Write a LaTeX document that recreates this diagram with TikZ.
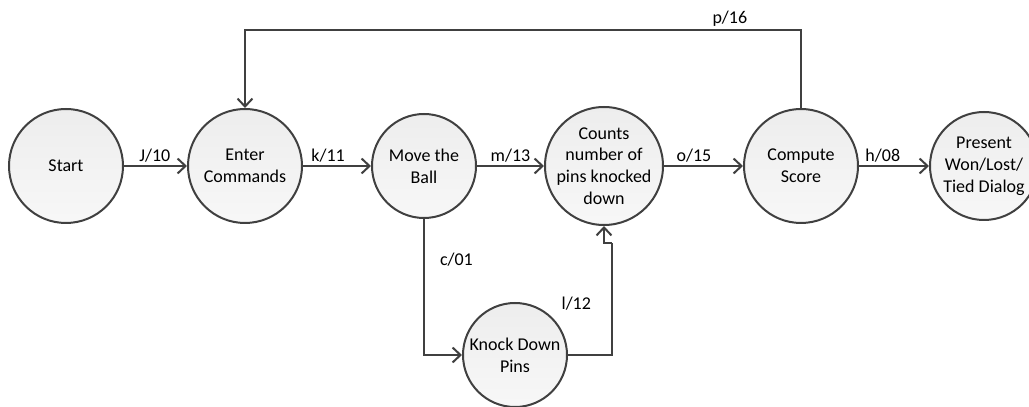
\documentclass[tikz,border=0pt]{standalone}
\usepackage{fontspec}
\setmainfont{Carlito}
\usetikzlibrary{arrows.meta, positioning, calc}
\definecolor{lineGray}{HTML}{404040}
\tikzset{
  st node/.style={
    circle, draw=lineGray, line width=1pt,
    top color=black!7, bottom color=black!3,
    minimum size=57pt, inner sep=0pt
  },
  st text/.style={
    align=center, font=\fontsize{9}{10.9}\selectfont, inner sep=0pt
  },
  st arrow/.style={
    -{Straight Barb[length=4pt,width=7.5pt]}, line width=1pt, draw=lineGray
  },
  st line/.style={
    line width=1pt, draw=lineGray
  },
  st label/.style={
    font=\fontsize{9}{10.9}\selectfont, inner sep=1.5pt
  }
}
\begin{document}
\begin{tikzpicture}
  \useasboundingbox (0,0) rectangle (514.5pt,203.5pt);
  \node (start) [st node, label={[st text]center:Start}] at (33pt,120.5pt) {};
  \node (enter) [st node, right=31.5pt of start,
    label={[st text]center:Enter\\Commands}] {};
  \node (move) [st node, minimum size=52pt, right=34pt of enter,
    label={[st text]center:Move the\\Ball}] {};
  \node (counts) [st node, minimum size=59pt, right=33.5pt of move,
    label={[st text]center:Counts\\number of\\pins knocked\\down}] {};
  \node (compute) [st node, right=39.5pt of counts,
    label={[st text]center:Compute\\Score}] {};
  \node (present) [st node, minimum size=54pt, right=35pt of compute,
    label={[st text]center:Present\\Won/Lost/\\Tied Dialog}] {};
  \node (kdp) [st node, minimum size=52pt, label={[st text]center:Knock Down\\Pins}]
    at (257.5pt,26pt) {};
  \coordinate (turn) at (306pt,82pt);

  \draw [st arrow] (start) -- node[st label, above, pos=0.49] {J/10} (enter);
  \draw [st arrow] (enter) -- node[st label, above, pos=0.37] {k/11} (move);
  \draw [st arrow] (move) -- node[st label, above, pos=0.5] {m/13} (counts);
  \draw [st arrow] (counts) -- node[st label, above, pos=0.38] {o/15} (compute);
  \draw [st arrow] (compute) -- node[st label, above, pos=0.34] {h/08} (present);
  \draw [st arrow] (compute.north) -- ++(0,39pt)
    -| node[st label, above, pos=0.064] {p/16} (enter.north);
  \draw [st arrow] (move.south) |- node[st label, right, pos=0.15, xshift=6pt] {c/01} (kdp.west);
  \draw [st line] (kdp.east) -| node[st label, left, pos=0.73, xshift=-8.5pt] {l/12} (turn);
  \draw [st arrow] (turn) -| (counts.south);
\end{tikzpicture}
\end{document}
